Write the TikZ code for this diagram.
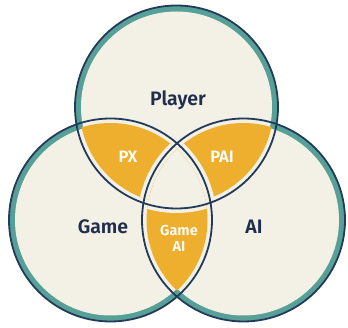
\documentclass[tikz,border=0pt]{standalone}
\usepackage{fontspec}
\setmainfont{Fira Sans}[BoldFont={Fira Sans SemiBold}]
\definecolor{cream}{HTML}{F3F0E5}
\definecolor{tealring}{HTML}{56A097}
\definecolor{navy}{HTML}{233B5B}
\definecolor{gold}{HTML}{EFAF2E}
\definecolor{labelnavy}{HTML}{1E2E4C}
\tikzset{
  biglabel/.style={text=labelnavy, font=\bfseries\fontsize{19.5}{20}\selectfont, inner sep=0pt},
  smalllabel/.style={text=white, font=\bfseries\fontsize{16.5}{17}\selectfont, inner sep=0pt},
  tinylabel/.style={text=white, font=\bfseries\fontsize{14.5}{16.5}\selectfont, inner sep=0pt, align=center},
  outline/.style={draw=navy, line width=1.8pt}
}
\begin{document}
\begin{tikzpicture}[x=1pt,y=-1pt]
\useasboundingbox (0,0) rectangle (348,328);
\def\R{101.5pt}
\def\Rin{95.5pt}
\def\Rg{97pt}
\def\Rp{106pt}
\coordinate (T) at (176.5,107);
\coordinate (L) at (110.5,220);
\coordinate (A) at (243.5,220);
% teal rings
\foreach \c in {T,L,A} \fill[tealring] (\c) circle[radius=\R];
\foreach \c in {T,L,A} \fill[cream] (\c) circle[radius=\Rin];
% gold lenses
\begin{scope}
  \clip (T) circle[radius=\Rg];
  \clip (L) circle[radius=\Rg];
  \fill[gold] (T) circle[radius=\R];
  \fill[cream] (A) circle[radius=\Rp];
\end{scope}
\begin{scope}
  \clip (T) circle[radius=\Rg];
  \clip (A) circle[radius=\Rg];
  \fill[gold] (T) circle[radius=\R];
  \fill[cream] (L) circle[radius=\Rp];
\end{scope}
\begin{scope}
  \clip (L) circle[radius=\Rg];
  \clip (A) circle[radius=\Rg];
  \fill[gold] (L) circle[radius=\R];
  \fill[cream] (T) circle[radius=\Rp];
\end{scope}
% outlines
\foreach \c in {T,L,A} \draw[outline] (\c) circle[radius=\R];
% labels
\node[biglabel] (player) at (178,100) {Player};
\node[biglabel] (game) at (103,227) {Game};
\node[biglabel] (ai) at (254,227) {AI};
\node[smalllabel] (px) at (128,157) {PX};
\node[smalllabel] (pai) at (222,157) {PAI};
\node[tinylabel] (gameai) at (179,238.5) {Game\\AI};
\end{tikzpicture}
\end{document}
